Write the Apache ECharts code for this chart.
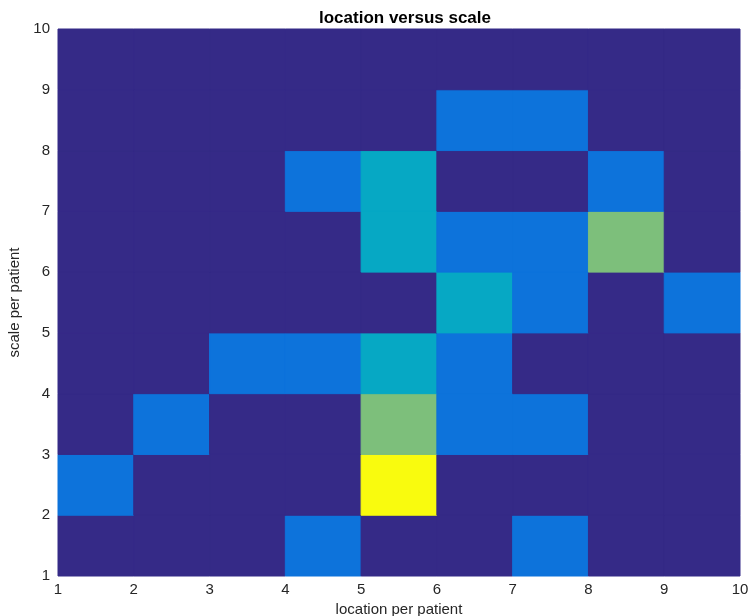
<!DOCTYPE html>
<html>
<head>
<meta charset="utf-8">
<script src="https://cdn.jsdelivr.net/npm/echarts@6/dist/echarts.min.js"></script>
<style>
  html, body { margin: 0; padding: 0; background: #fff; }
  #chart { width: 750px; height: 616px; }
</style>
</head>
<body>
<div id="chart"></div>
<script>
// cell counts, one row per scale bin (bottom row first), one column per location bin
var xEdges = [1, 2, 3, 4, 5, 6, 7, 8, 9];
var yEdges = [1, 2, 3, 4, 5, 6, 7, 8, 9];
var counts = [
    [0, 0, 0, 1, 0, 0, 1, 0, 0],
    [1, 0, 0, 0, 4, 0, 0, 0, 0],
    [0, 1, 0, 0, 3, 1, 1, 0, 0],
    [0, 0, 1, 1, 2, 1, 0, 0, 0],
    [0, 0, 0, 0, 0, 2, 1, 0, 1],
    [0, 0, 0, 0, 2, 1, 1, 3, 0],
    [0, 0, 0, 1, 2, 0, 0, 1, 0],
    [0, 0, 0, 0, 0, 1, 1, 0, 0],
    [0, 0, 0, 0, 0, 0, 0, 0, 0]
];
var parula = ['#352a87', '#0d73db', '#06a8c4', '#7dbf7b', '#f9fb0e'];

var cells = [];
yEdges.forEach(function (y, r) {
    xEdges.forEach(function (x, c) {
        cells.push([x, y, counts[r][c]]);
    });
});

var chart = echarts.init(document.getElementById('chart'));
var labelStyle = { color: '#262626', fontSize: 15, fontFamily: 'Liberation Sans, Arial, sans-serif' };
var option = {
    animation: false,
    title: {
        text: 'location versus scale',
        left: 400,
        top: 5,
        textAlign: 'center',
        textStyle: { fontSize: 17, fontWeight: 'bold', color: '#000', fontFamily: 'Liberation Sans, Arial, sans-serif' }
    },
    grid: {
        left: 58, right: 10, top: 29, bottom: 40,
        outerBoundsMode: 'none',
        show: true,
        backgroundColor: parula[0],
        borderWidth: 0
    },
    visualMap: {
        show: false,
        type: 'continuous',
        min: 0,
        max: 4,
        dimension: 2,
        inRange: { color: parula }
    },
    xAxis: {
        type: 'value',
        min: 1,
        max: 10,
        interval: 1,
        name: 'location per patient',
        nameLocation: 'middle',
        nameGap: 21,
        nameTextStyle: labelStyle,
        axisLine: { show: false },
        axisTick: { show: false },
        splitLine: { show: false },
        axisLabel: Object.assign({ margin: 6 }, labelStyle)
    },
    yAxis: {
        type: 'value',
        min: 1,
        max: 10,
        interval: 1,
        name: 'scale per patient',
        nameLocation: 'middle',
        nameGap: 30,
        nameTextStyle: labelStyle,
        axisLine: { show: false },
        axisTick: { show: false },
        splitLine: { show: false },
        axisLabel: Object.assign({ margin: 8 }, labelStyle)
    },
    series: [{
        type: 'custom',
        data: cells,
        encode: { x: 0, y: 1 },
        renderItem: function (params, api) {
            var x = api.value(0), y = api.value(1);
            var p0 = api.coord([x, y + 1]);
            var p1 = api.coord([x + 1, y]);
            return {
                type: 'rect',
                shape: { x: p0[0], y: p0[1], width: p1[0] - p0[0], height: p1[1] - p0[1] },
                style: { fill: api.visual('color'), stroke: api.visual('color'), lineWidth: 1 }
            };
        }
    }]
};
chart.setOption(option);
</script>
</body>
</html>
